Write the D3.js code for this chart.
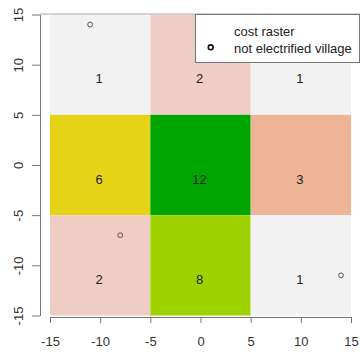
<!DOCTYPE html>
<html>
<head>
<meta charset="utf-8">
<script src="https://cdn.jsdelivr.net/npm/d3@7"></script>
<style>
  body { margin: 0; background: #fff; }
  svg { display: block; font-family: "Liberation Sans", Arial, sans-serif; }
</style>
</head>
<body>
<svg width="360" height="352"></svg>
<script>
// raster cells (cell centres) and cost values, row by row from top
const cellX = [-10, 0, 10];
const cellY = [10, 0, -10];
const costs = [
  [1, 2, 1],
  [6, 12, 3],
  [2, 8, 1]
];

// not electrified villages
const villageX = [-11, -8, 14];
const villageY = [14, -7, -11];

const ticks = [-15, -10, -5, 0, 5, 10, 15];
const legendLabels = ['cost raster', 'not electrified village'];

// terrain-like palette for the cost values
const costLevels = [1, 2, 3, 6, 8, 12];
const costColors = ['#f2f2f2', '#f0cdc4', '#edb596', '#e6d317', '#9fd300', '#00a600'];

const AXIS = '#777';
const TEXT = '#333';

let svg = d3.select('svg');

let x = d3.scaleLinear().domain([-15, 15]).range([50, 351]);
let y = d3.scaleLinear().domain([-15, 15]).range([315.5, 14.5]);
let color = d3.scaleOrdinal().domain(costLevels).range(costColors);

// flatten raster into cells
let cells = [];
costs.forEach((row, i) => {
  row.forEach((v, j) => {
    cells.push({ cx: cellX[j], cy: cellY[i], value: v });
  });
});

let half = 5;

svg.append('g')
  .selectAll('rect')
  .data(cells)
  .enter()
  .append('rect')
  .attr('x', d => x(d.cx - half))
  .attr('y', d => y(d.cy + half))
  .attr('width', d => x(d.cx + half) - x(d.cx - half))
  .attr('height', d => y(d.cy - half) - y(d.cy + half))
  .attr('fill', d => color(d.value));

// value labels (sit a little below the cell centre, as in the original)
svg.append('g')
  .selectAll('text')
  .data(cells)
  .enter()
  .append('text')
  .attr('x', d => x(d.cx) - 1)
  .attr('y', d => y(d.cy) + 18.5)
  .attr('text-anchor', 'middle')
  .attr('font-size', 13)
  .attr('fill', '#222')
  .text(d => d.value);

// villages
svg.append('g')
  .selectAll('circle')
  .data(villageX.map((v, i) => ({ x: v, y: villageY[i] })))
  .enter()
  .append('circle')
  .attr('cx', d => x(d.x))
  .attr('cy', d => y(d.y))
  .attr('r', 2.4)
  .attr('fill', 'none')
  .attr('stroke', '#555')
  .attr('stroke-width', 1);

// x axis
let xAxis = svg.append('g')
  .attr('transform', 'translate(0,' + 317 + ')')
  .call(d3.axisBottom(x).tickValues(ticks).tickSize(6).tickSizeOuter(0).tickFormat(d3.format('d')));
xAxis.select('.domain').attr('stroke', AXIS);
xAxis.selectAll('.tick line').attr('stroke', AXIS);
xAxis.selectAll('.tick text')
  .attr('y', 29)
  .attr('dy', 0)
  .attr('font-size', 13)
  .attr('font-family', '"Liberation Sans", Arial, sans-serif')
  .attr('fill', TEXT)
  .text(d => d < 0 ? '-' + Math.abs(d) : d);

// y axis with rotated labels
let yAxis = svg.append('g')
  .attr('transform', 'translate(40,0)')
  .call(d3.axisLeft(y).tickValues(ticks).tickSize(8).tickSizeOuter(0).tickFormat(d3.format('d')));
yAxis.select('.domain').attr('stroke', AXIS);
yAxis.selectAll('.tick line').attr('stroke', AXIS);
yAxis.selectAll('.tick text')
  .attr('transform', 'rotate(-90)')
  .attr('x', 0)
  .attr('y', -17)
  .attr('dy', 0)
  .attr('text-anchor', 'middle')
  .attr('font-size', 13)
  .attr('font-family', '"Liberation Sans", Arial, sans-serif')
  .attr('fill', TEXT)
  .text(d => d < 0 ? '-' + Math.abs(d) : d);

// top rule
svg.append('line')
  .attr('x1', 40).attr('x2', 360)
  .attr('y1', 14).attr('y2', 14)
  .attr('stroke', '#aaa');

// legend
let legend = svg.append('g').attr('transform', 'translate(195,14)');
legend.append('rect')
  .attr('x', 0.5).attr('y', 0.5)
  .attr('width', 164).attr('height', 48)
  .attr('fill', '#fff')
  .attr('stroke', '#777');
legend.selectAll('text')
  .data(legendLabels)
  .enter()
  .append('text')
  .attr('x', 39)
  .attr('y', (d, i) => 22 + i * 16.5)
  .attr('font-size', 13)
  .attr('fill', '#222')
  .text(d => d);
legend.append('circle')
  .attr('cx', 15.7).attr('cy', 33.3)
  .attr('r', 2.4)
  .attr('fill', 'none')
  .attr('stroke', '#111')
  .attr('stroke-width', 1.6);
</script>
</body>
</html>
